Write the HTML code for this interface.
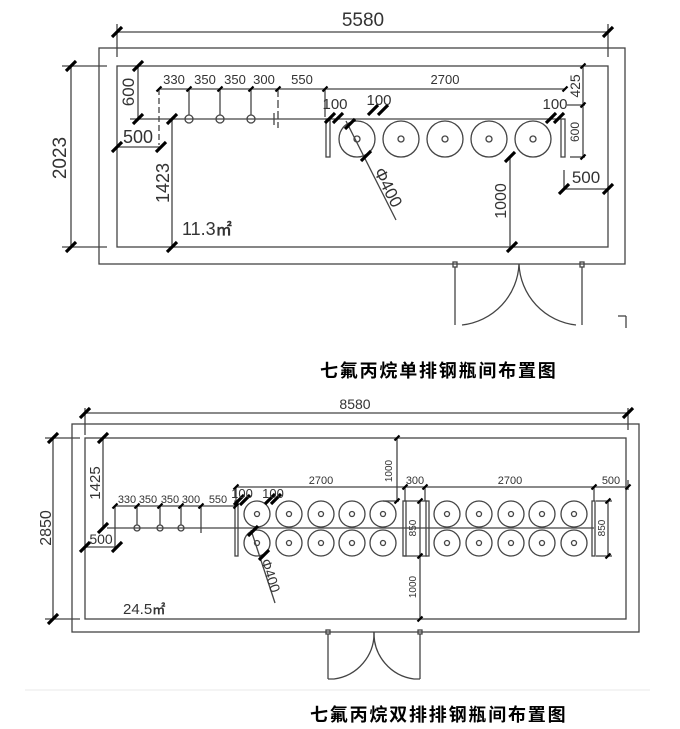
<!DOCTYPE html>
<html><head><meta charset="utf-8"><style>
html,body{margin:0;padding:0;background:#fff;width:680px;height:729px;overflow:hidden}
svg{display:block}
text{font-family:"Liberation Sans",sans-serif;fill:#333}
.cap{font-family:"Liberation Sans","Noto Sans CJK SC",sans-serif;font-weight:bold;fill:#000;font-size:18px;letter-spacing:1.8px}
</style></head><body>
<svg width="680" height="729" viewBox="0 0 680 729" xmlns="http://www.w3.org/2000/svg">
<defs>
<path id="t" d="M-5,5 L5,-5" stroke="#000" stroke-width="3.2"/>
<path id="s" d="M-2.5,2.5 L2.5,-2.5" stroke="#000" stroke-width="2.2"/>
</defs>
<g fill="none" stroke="#444" stroke-width="1.3">
<!-- TOP -->
<rect x="99" y="48" width="526" height="216"/>
<rect x="117" y="66" width="491" height="181"/>
<line x1="117" y1="32" x2="608" y2="32"/>
<line x1="117" y1="24" x2="117" y2="57"/>
<line x1="608" y1="24" x2="608" y2="57"/>
<line x1="71" y1="66" x2="71" y2="247"/>
<line x1="62" y1="66" x2="107" y2="66"/>
<line x1="62" y1="247" x2="107" y2="247"/>
<line x1="138" y1="66" x2="138" y2="119"/>
<line x1="130" y1="119" x2="561" y2="119"/>
<line x1="159" y1="89" x2="565" y2="89"/>
<line x1="159" y1="89" x2="159" y2="145" stroke-dasharray="6,3"/>
<line x1="189" y1="89" x2="189" y2="115"/>
<line x1="220" y1="89" x2="220" y2="115"/>
<line x1="251" y1="89" x2="251" y2="115"/>
<line x1="278" y1="89" x2="278" y2="128" stroke-dasharray="8,3"/>
<line x1="274" y1="113" x2="274" y2="125"/>
<line x1="325" y1="89" x2="325" y2="117"/>
<circle cx="189" cy="119" r="4"/><circle cx="220" cy="119" r="4"/><circle cx="251" cy="119" r="4"/>
<line x1="117" y1="147" x2="161" y2="147"/>
<line x1="172" y1="119" x2="172" y2="247"/>
<rect x="326" y="119" width="4" height="38"/>
<rect x="561" y="119" width="4" height="38"/>
<circle cx="357" cy="139" r="18"/><circle cx="401" cy="139" r="18"/><circle cx="445" cy="139" r="18"/><circle cx="489" cy="139" r="18"/><circle cx="533" cy="139" r="18"/>
<circle cx="357" cy="139" r="3"/><circle cx="401" cy="139" r="3"/><circle cx="445" cy="139" r="3"/><circle cx="489" cy="139" r="3"/><circle cx="533" cy="139" r="3"/>
<line x1="583" y1="66" x2="583" y2="157"/>
<line x1="567" y1="105" x2="585" y2="105"/>
<line x1="570" y1="157" x2="585" y2="157"/>
<line x1="564" y1="189" x2="608" y2="189"/>
<line x1="564" y1="170" x2="564" y2="190"/>
<line x1="510" y1="157" x2="510" y2="247"/>
<line x1="346" y1="121" x2="396" y2="220"/>
<rect x="453" y="262" width="4" height="5"/><rect x="580" y="262" width="4" height="5"/>
<line x1="455" y1="267" x2="455" y2="325"/><line x1="582" y1="267" x2="582" y2="325"/>
<path d="M519,264 A64,64 0 0 1 462,325"/>
<path d="M519,264 A64,64 0 0 0 576,325"/>
<line x1="626" y1="316" x2="626" y2="328"/><line x1="618" y1="316" x2="626" y2="316"/>
<!-- BOTTOM -->
<rect x="72" y="424" width="567" height="208"/>
<rect x="85" y="438" width="541" height="181"/>
<line x1="85" y1="413" x2="628" y2="413"/>
<line x1="85" y1="408" x2="85" y2="435"/>
<line x1="628" y1="408" x2="628" y2="430"/>
<line x1="53" y1="438" x2="53" y2="619"/>
<line x1="45" y1="438" x2="80" y2="438"/>
<line x1="45" y1="619" x2="80" y2="619"/>
<line x1="103" y1="438" x2="103" y2="528"/>
<line x1="107" y1="528" x2="594" y2="528"/>
<line x1="115" y1="506" x2="236" y2="506"/>
<line x1="115" y1="506" x2="115" y2="550"/>
<line x1="137" y1="506" x2="137" y2="525"/><line x1="160" y1="506" x2="160" y2="525"/><line x1="181" y1="506" x2="181" y2="525"/>
<line x1="201" y1="506" x2="201" y2="533"/>
<circle cx="137" cy="528" r="3"/><circle cx="160" cy="528" r="3"/><circle cx="181" cy="528" r="3"/>
<line x1="236" y1="487" x2="628" y2="487"/>
<line x1="85" y1="547" x2="117" y2="547"/>
<line x1="236" y1="487" x2="236" y2="501"/>
<line x1="397" y1="438" x2="397" y2="501"/>
<line x1="383" y1="501" x2="399" y2="501"/>
<line x1="405" y1="487" x2="405" y2="501"/>
<line x1="425" y1="487" x2="425" y2="501"/>
<line x1="594" y1="487" x2="594" y2="501"/>
<line x1="628" y1="480" x2="628" y2="490"/>
<line x1="420" y1="501" x2="420" y2="619"/>
<line x1="608" y1="501" x2="608" y2="556"/>
<line x1="596" y1="501" x2="612" y2="501"/><line x1="596" y1="556" x2="612" y2="556"/>
<line x1="404" y1="501" x2="427" y2="501"/><line x1="404" y1="556" x2="427" y2="556"/>
<rect x="235" y="501" width="3" height="55"/><rect x="403" y="501" width="3" height="55"/>
<rect x="426" y="501" width="3" height="55"/><rect x="592" y="501" width="3" height="55"/>
<g>
<circle cx="257" cy="514" r="13"/><circle cx="289" cy="514" r="13"/><circle cx="321" cy="514" r="13"/><circle cx="352" cy="514" r="13"/><circle cx="383" cy="514" r="13"/>
<circle cx="447" cy="514" r="13"/><circle cx="479" cy="514" r="13"/><circle cx="511" cy="514" r="13"/><circle cx="542" cy="514" r="13"/><circle cx="574" cy="514" r="13"/>
<circle cx="257" cy="543" r="13"/><circle cx="289" cy="543" r="13"/><circle cx="321" cy="543" r="13"/><circle cx="352" cy="543" r="13"/><circle cx="383" cy="543" r="13"/>
<circle cx="447" cy="543" r="13"/><circle cx="479" cy="543" r="13"/><circle cx="511" cy="543" r="13"/><circle cx="542" cy="543" r="13"/><circle cx="574" cy="543" r="13"/>
<circle cx="257" cy="514" r="2.5"/><circle cx="289" cy="514" r="2.5"/><circle cx="321" cy="514" r="2.5"/><circle cx="352" cy="514" r="2.5"/><circle cx="383" cy="514" r="2.5"/>
<circle cx="447" cy="514" r="2.5"/><circle cx="479" cy="514" r="2.5"/><circle cx="511" cy="514" r="2.5"/><circle cx="542" cy="514" r="2.5"/><circle cx="574" cy="514" r="2.5"/>
<circle cx="257" cy="543" r="2.5"/><circle cx="289" cy="543" r="2.5"/><circle cx="321" cy="543" r="2.5"/><circle cx="352" cy="543" r="2.5"/><circle cx="383" cy="543" r="2.5"/>
<circle cx="447" cy="543" r="2.5"/><circle cx="479" cy="543" r="2.5"/><circle cx="511" cy="543" r="2.5"/><circle cx="542" cy="543" r="2.5"/><circle cx="574" cy="543" r="2.5"/>
</g>
<line x1="251" y1="530" x2="275" y2="603"/>
<rect x="326" y="630" width="4" height="4"/><rect x="418" y="630" width="4" height="4"/>
<line x1="328" y1="634" x2="328" y2="679"/><line x1="420" y1="634" x2="420" y2="679"/>
<path d="M374,632 A46,46 0 0 1 334,679 L328,679"/>
<path d="M374,632 A46,46 0 0 0 414,679 L420,679"/>
<line x1="25" y1="690" x2="650" y2="690" stroke="#eee"/>
</g>
<!-- ticks top -->
<use href="#t" x="117" y="32"/><use href="#t" x="608" y="32"/>
<use href="#t" x="71" y="66"/><use href="#t" x="71" y="247"/>
<use href="#t" x="138" y="66"/><use href="#t" x="138" y="119"/>
<use href="#t" x="117" y="147"/><use href="#t" x="161" y="147"/>
<use href="#t" x="172" y="119"/><use href="#t" x="172" y="247"/>
<use href="#t" x="330" y="118"/><use href="#t" x="338" y="118"/>
<use href="#t" x="373" y="110"/><use href="#t" x="383" y="110"/>
<use href="#t" x="551" y="118"/><use href="#t" x="559" y="118"/>
<use href="#t" x="350" y="124"/><use href="#t" x="366" y="156"/>
<use href="#t" x="510" y="157"/><use href="#t" x="512" y="247"/>
<use href="#t" x="564" y="189"/><use href="#t" x="608" y="189"/>
<use href="#s" x="583" y="66"/><use href="#s" x="583" y="105"/><use href="#s" x="583" y="157"/>
<use href="#s" x="159" y="89"/><use href="#s" x="189" y="89"/><use href="#s" x="220" y="89"/><use href="#s" x="251" y="89"/><use href="#s" x="278" y="89"/><use href="#s" x="325" y="89"/><use href="#s" x="565" y="89"/>
<!-- ticks bottom -->
<use href="#t" x="85" y="413"/><use href="#t" x="628" y="413"/>
<use href="#t" x="53" y="438"/><use href="#t" x="53" y="619"/>
<use href="#t" x="103" y="438"/><use href="#t" x="103" y="528"/>
<use href="#t" x="85" y="547"/><use href="#t" x="117" y="547"/>
<use href="#t" x="239" y="500"/><use href="#t" x="245" y="500"/>
<use href="#t" x="270" y="499"/><use href="#t" x="276" y="499"/>
<use href="#t" x="253" y="531"/><use href="#t" x="264" y="555"/>
<use href="#s" x="115" y="506"/><use href="#s" x="137" y="506"/><use href="#s" x="160" y="506"/><use href="#s" x="181" y="506"/><use href="#s" x="201" y="506"/><use href="#s" x="236" y="506"/>
<use href="#s" x="236" y="487"/><use href="#s" x="397" y="438"/><use href="#s" x="397" y="501"/><use href="#s" x="405" y="487"/><use href="#s" x="425" y="487"/><use href="#s" x="594" y="487"/><use href="#s" x="628" y="487"/>
<use href="#s" x="420" y="501"/><use href="#s" x="420" y="556"/><use href="#s" x="420" y="619"/>
<use href="#s" x="608" y="501"/><use href="#s" x="608" y="556"/>
<!-- text top -->
<text x="363" y="26" font-size="19" text-anchor="middle">5580</text>
<text transform="translate(66,158) rotate(-90)" font-size="19" text-anchor="middle">2023</text>
<text transform="translate(134,92) rotate(-90)" font-size="17" text-anchor="middle">600</text>
<text x="174" y="84" font-size="13" text-anchor="middle">330</text>
<text x="205" y="84" font-size="13" text-anchor="middle">350</text>
<text x="235" y="84" font-size="13" text-anchor="middle">350</text>
<text x="264" y="84" font-size="13" text-anchor="middle">300</text>
<text x="302" y="84" font-size="13" text-anchor="middle">550</text>
<text x="445" y="84" font-size="13" text-anchor="middle">2700</text>
<text x="138" y="143" font-size="18" text-anchor="middle">500</text>
<text transform="translate(169,183) rotate(-90)" font-size="18" text-anchor="middle">1423</text>
<text x="182" y="235" font-size="18">11.3<tspan font-weight="bold" font-size="16">㎡</tspan></text>
<text x="335" y="109" font-size="15" text-anchor="middle">100</text>
<text x="379" y="105" font-size="15" text-anchor="middle">100</text>
<text x="555" y="109" font-size="15" text-anchor="middle">100</text>
<text transform="translate(580,86) rotate(-90)" font-size="14" text-anchor="middle">425</text>
<text transform="translate(579,132) rotate(-90)" font-size="12" text-anchor="middle">600</text>
<text x="586" y="183" font-size="17" text-anchor="middle">500</text>
<text transform="translate(506,201) rotate(-90)" font-size="16" text-anchor="middle">1000</text>
<text transform="translate(383,190) rotate(63)" font-size="17" text-anchor="middle">Φ400</text>
<text x="320" y="377" class="cap">七氟丙烷单排钢瓶间布置图</text>
<!-- text bottom -->
<text x="355" y="409" font-size="14" text-anchor="middle">8580</text>
<text transform="translate(51,528) rotate(-90)" font-size="16" text-anchor="middle">2850</text>
<text transform="translate(100,483) rotate(-90)" font-size="15" text-anchor="middle">1425</text>
<text x="127" y="503" font-size="11" text-anchor="middle">330</text>
<text x="148" y="503" font-size="11" text-anchor="middle">350</text>
<text x="170" y="503" font-size="11" text-anchor="middle">350</text>
<text x="191" y="503" font-size="11" text-anchor="middle">300</text>
<text x="218" y="503" font-size="11" text-anchor="middle">550</text>
<text x="321" y="484" font-size="11" text-anchor="middle">2700</text>
<text x="415" y="484" font-size="11" text-anchor="middle">300</text>
<text x="510" y="484" font-size="11" text-anchor="middle">2700</text>
<text x="611" y="484" font-size="11" text-anchor="middle">500</text>
<text x="242" y="498" font-size="13" text-anchor="middle">100</text>
<text x="273" y="498" font-size="13" text-anchor="middle">100</text>
<text x="101" y="544" font-size="14" text-anchor="middle">500</text>
<text transform="translate(392,471) rotate(-90)" font-size="10" text-anchor="middle">1000</text>
<text transform="translate(416,587) rotate(-90)" font-size="10" text-anchor="middle">1000</text>
<text transform="translate(416,528) rotate(-90)" font-size="10" text-anchor="middle">850</text>
<text transform="translate(605,528) rotate(-90)" font-size="10" text-anchor="middle">850</text>
<text transform="translate(266,577) rotate(72)" font-size="14" text-anchor="middle">Φ400</text>
<text x="123" y="614" font-size="15">24.5<tspan font-weight="bold" font-size="13">㎡</tspan></text>
<text x="310" y="721" class="cap">七氟丙烷双排排钢瓶间布置图</text>
</svg>
</body></html>
